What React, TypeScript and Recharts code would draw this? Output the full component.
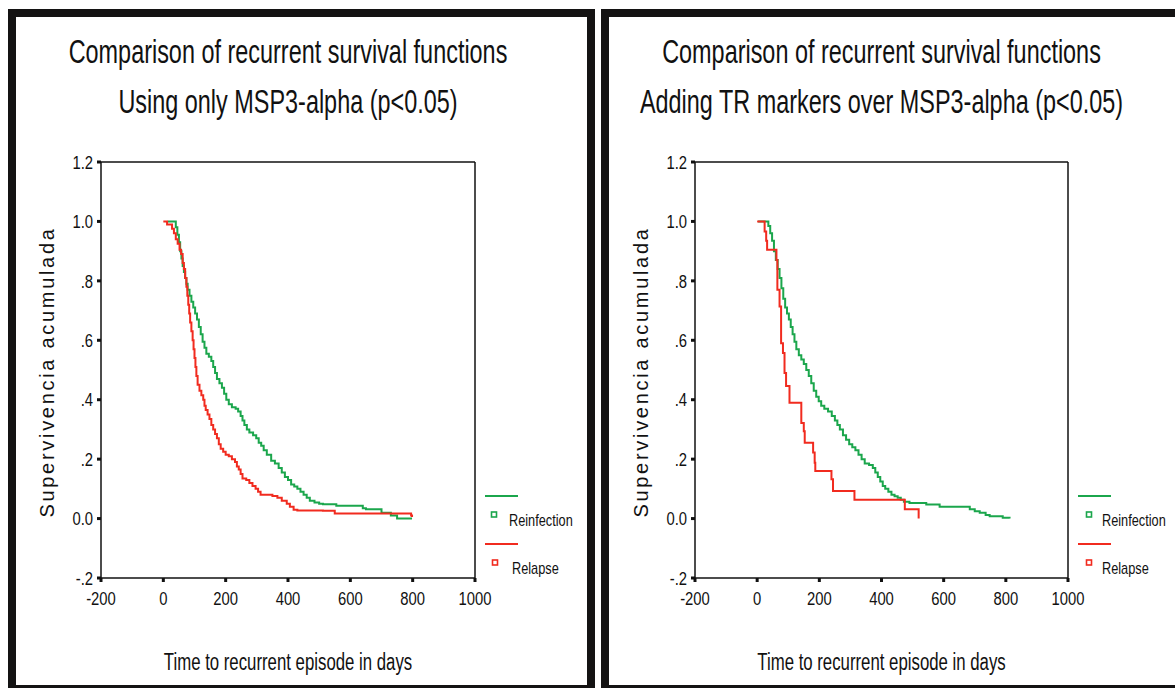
import React from 'react';
import { LineChart, Line, XAxis, YAxis, ReferenceLine, Legend } from 'recharts';

const X_TICKS = [-200, 0, 200, 400, 600, 800, 1000];
const Y_TICKS = [-0.2, 0, 0.2, 0.4, 0.6, 0.8, 1.0, 1.2];
const Y_TICK_LABELS = ['-.2', '0.0', '.2', '.4', '.6', '.8', '1.0', '1.2'];

const TITLE_MAIN = 'Comparison of recurrent survival functions';
const SUBTITLES = ['Using only MSP3-alpha (p<0.05)', 'Adding TR markers over MSP3-alpha (p<0.05)'];
const X_LABEL = 'Time to recurrent episode in days';
const Y_LABEL = 'Supervivencia acumulada';
const SERIES_NAMES = ['Reinfection', 'Relapse'];

// panel 1: MSP3-alpha only
const ONLY_REINF_DAYS = [14, 35, 40, 45, 50, 54, 58, 62, 66, 70, 74, 78, 84, 90, 96, 102, 108, 114, 120, 126, 132, 138, 146, 154, 160, 166, 172, 180, 188, 195, 202, 210, 220, 232, 240, 248, 254, 260, 268, 276, 288, 298, 306, 314, 322, 332, 346, 358, 370, 380, 390, 400, 410, 420, 430, 440, 450, 460, 470, 485, 500, 512, 555, 640, 650, 700, 730, 750, 798];
const ONLY_REINF_SURV = [1.0, 1.0, 0.98, 0.955, 0.93, 0.9, 0.875, 0.85, 0.83, 0.81, 0.79, 0.77, 0.75, 0.73, 0.71, 0.69, 0.67, 0.645, 0.62, 0.595, 0.575, 0.555, 0.545, 0.53, 0.51, 0.49, 0.47, 0.455, 0.44, 0.42, 0.4, 0.385, 0.375, 0.37, 0.36, 0.345, 0.33, 0.315, 0.3, 0.29, 0.28, 0.27, 0.255, 0.245, 0.23, 0.215, 0.195, 0.185, 0.17, 0.155, 0.14, 0.13, 0.115, 0.108, 0.1, 0.09, 0.08, 0.07, 0.06, 0.054, 0.05, 0.048, 0.043, 0.035, 0.031, 0.02, 0.01, 0.0, 0.0];
const ONLY_RELAPSE_DAYS = [0, 8, 12, 24, 28, 34, 40, 46, 52, 57, 62, 66, 70, 74, 77, 80, 83, 86, 90, 94, 97, 100, 103, 106, 110, 116, 122, 128, 132, 136, 142, 148, 154, 160, 166, 172, 178, 184, 192, 200, 210, 220, 230, 236, 242, 248, 254, 266, 276, 286, 296, 304, 312, 350, 366, 380, 396, 406, 418, 430, 512, 550, 780, 795, 798];
const ONLY_RELAPSE_SURV = [1.0, 1.0, 0.99, 0.99, 0.975, 0.96, 0.94, 0.925, 0.905, 0.89, 0.86, 0.84, 0.81, 0.78, 0.75, 0.72, 0.69, 0.66, 0.63, 0.6, 0.57, 0.54, 0.51, 0.48, 0.45, 0.43, 0.415, 0.4, 0.38, 0.365, 0.35, 0.335, 0.315, 0.3, 0.285, 0.27, 0.25, 0.235, 0.225, 0.215, 0.21, 0.2, 0.19, 0.175, 0.165, 0.15, 0.135, 0.13, 0.12, 0.11, 0.1, 0.09, 0.08, 0.076, 0.07, 0.06, 0.05, 0.04, 0.03, 0.027, 0.026, 0.017, 0.017, 0.01, 0.005];

// panel 2: TR markers added
const TR_REINF_DAYS = [3, 30, 36, 42, 48, 54, 60, 66, 72, 78, 84, 90, 96, 102, 108, 114, 120, 126, 134, 142, 150, 158, 166, 174, 182, 190, 198, 206, 216, 228, 240, 250, 258, 266, 276, 286, 296, 306, 316, 326, 336, 346, 360, 372, 380, 388, 396, 404, 412, 422, 432, 442, 452, 462, 472, 490, 544, 587, 684, 700, 716, 735, 748, 790, 812];
const TR_REINF_SURV = [1.0, 1.0, 0.985, 0.96, 0.935, 0.9, 0.87, 0.84, 0.81, 0.775, 0.74, 0.71, 0.69, 0.67, 0.645, 0.62, 0.595, 0.57, 0.55, 0.535, 0.52, 0.5, 0.48, 0.455, 0.43, 0.41, 0.395, 0.38, 0.37, 0.36, 0.345, 0.33, 0.315, 0.3, 0.28, 0.265, 0.25, 0.24, 0.23, 0.215, 0.2, 0.185, 0.18, 0.17, 0.155, 0.14, 0.125, 0.11, 0.1, 0.09, 0.08, 0.075, 0.07, 0.063, 0.057, 0.052, 0.047, 0.04, 0.031, 0.025, 0.02, 0.012, 0.008, 0.003, 0.0];
const TR_RELAPSE_DAYS = [0, 21, 24, 29, 32, 60, 62, 65, 72, 77, 83, 88, 93, 104, 139, 142, 150, 153, 175, 180, 185, 187, 234, 239, 244, 311, 313, 473, 475, 519, 519.5];
const TR_RELAPSE_SURV = [1.0, 1.0, 0.966, 0.935, 0.905, 0.905, 0.87, 0.77, 0.714, 0.59, 0.557, 0.49, 0.446, 0.39, 0.39, 0.322, 0.294, 0.255, 0.255, 0.222, 0.188, 0.16, 0.16, 0.132, 0.093, 0.093, 0.063, 0.063, 0.031, 0.031, 0.0];

const GREEN = '#1ba64c';
const RED = '#f12b1f';
const FONT = "'Liberation Sans', Arial, sans-serif";

const toPoints = (days: number[], surv: number[]) =>
  days.map((d, i) => ({ day: d, surv: surv[i] }));

const yTickLabel = (v: number) => {
  const i = Y_TICKS.findIndex((t) => Math.abs(t - v) < 1e-6);
  return i >= 0 ? Y_TICK_LABELS[i] : String(v);
};

// the original uses a condensed face, so squeeze text horizontally
const Narrow = ({ x, y, anchor, dy, size, squeeze, children }: any) => (
  <g transform={`translate(${x},${y}) scale(${squeeze},1)`}>
    <text x={0} y={0} dy={dy} textAnchor={anchor} fontSize={size} fontFamily={FONT} fill="#111">
      {children}
    </text>
  </g>
);

const XTick = (props: any) => (
  <Narrow x={props.x} y={props.y} anchor="middle" dy="0.71em" size={19} squeeze={0.78}>
    {props.payload.value}
  </Narrow>
);

const YTick = (props: any) => (
  <Narrow x={props.x} y={props.y} anchor="end" dy="0.355em" size={19} squeeze={0.78}>
    {yTickLabel(props.payload.value)}
  </Narrow>
);

const makeLegend = (sqX: number[], txtX: number[]) => (props: any) => {
  const payload = props.payload || [];
  return (
    <svg width={120} height={100} style={{ overflow: 'visible' }}>
      {payload.map((p: any, i: number) => {
        const top = i * 48;
        return (
          <g key={p.value}>
            <line x1={0} x2={33} y1={top + 9} y2={top + 9} stroke={p.color} strokeWidth={2} />
            <rect x={sqX[i] - 2.5} y={top + 25} width={5} height={5} fill="#fff" stroke={p.color} strokeWidth={1.6} />
            <Narrow x={txtX[i]} y={top + 39} anchor="start" size={17} squeeze={0.75}>
              {p.value}
            </Narrow>
          </g>
        );
      })}
    </svg>
  );
};

interface PanelProps {
  left: number;
  width: number;
  yAxisWidth: number;
  marginRight: number;
  subtitle: string;
  reinf: { day: number; surv: number }[];
  relapse: { day: number; surv: number }[];
  legendLeft: number;
  legendSquares: number[];
  legendText: number[];
}

function Panel(p: PanelProps) {
  const plotWidth = p.width - p.yAxisWidth - p.marginRight;
  const cx = p.yAxisWidth + plotWidth / 2;
  return (
    <div style={{ position: 'absolute', left: p.left, top: 17, width: p.width, height: 668 }}>
      <LineChart
        width={p.width}
        height={668}
        margin={{ top: 145, right: p.marginRight, bottom: 77, left: 0 }}
      >
        <XAxis
          type="number"
          dataKey="day"
          domain={[-200, 1000]}
          ticks={X_TICKS}
          allowDataOverflow
          height={30}
          axisLine={{ stroke: '#111', strokeWidth: 1.5 }}
          tickLine={{ stroke: '#111', strokeWidth: 3 }}
          tickSize={4}
          tickMargin={9}
          tick={XTick}
        />
        <YAxis
          type="number"
          domain={[-0.2, 1.2]}
          ticks={Y_TICKS}
          allowDataOverflow
          width={p.yAxisWidth}
          axisLine={{ stroke: '#111', strokeWidth: 1.5 }}
          tickLine={{ stroke: '#111', strokeWidth: 3 }}
          tickSize={4}
          tickMargin={4}
          tick={YTick}
        />
        <ReferenceLine y={1.2} stroke="#111" strokeWidth={1.5} />
        <ReferenceLine x={1000} stroke="#111" strokeWidth={1.5} />
        <Line
          name={SERIES_NAMES[0]}
          data={p.reinf}
          dataKey="surv"
          type="stepAfter"
          stroke={GREEN}
          strokeWidth={2}
          dot={false}
          isAnimationActive={false}
        />
        <Line
          name={SERIES_NAMES[1]}
          data={p.relapse}
          dataKey="surv"
          type="stepAfter"
          stroke={RED}
          strokeWidth={2}
          dot={false}
          isAnimationActive={false}
        />
        <Legend
          layout="vertical"
          align="center"
          verticalAlign="middle"
          content={makeLegend(p.legendSquares, p.legendText)}
          wrapperStyle={{ left: p.legendLeft, top: 470, width: 120, height: 100 }}
        />
      </LineChart>
      <svg
        width={p.width}
        height={668}
        style={{ position: 'absolute', left: 0, top: 0, pointerEvents: 'none' }}
      >
        <Narrow x={cx} y={46} anchor="middle" size={33} squeeze={0.71}>{TITLE_MAIN}</Narrow>
        <Narrow x={cx} y={96} anchor="middle" size={33} squeeze={0.71}>{p.subtitle}</Narrow>
        <Narrow x={cx} y={653} anchor="middle" size={23} squeeze={0.73}>{X_LABEL}</Narrow>
        <text
          transform={`translate(${p.yAxisWidth - 47}, 355) rotate(-90)`}
          textAnchor="middle"
          fontSize={20}
          fontFamily={FONT}
          fill="#111"
          letterSpacing={2.7}
        >
          {Y_LABEL}
        </text>
      </svg>
    </div>
  );
}

export default function App() {
  return (
    <div style={{ position: 'relative', width: 1175, height: 688, background: '#fff', overflow: 'hidden' }}>
      <style>{'body{margin:0}'}</style>
      <div style={{ position: 'absolute', left: 8, top: 9, width: 587, height: 684, border: '8px solid #141313', boxSizing: 'border-box' }} />
      <div style={{ position: 'absolute', left: 601, top: 9, width: 600, height: 684, border: '8px solid #141313', boxSizing: 'border-box' }} />
      <Panel
        left={16}
        width={570}
        yAxisWidth={85}
        marginRight={111}
        subtitle={SUBTITLES[0]}
        reinf={toPoints(ONLY_REINF_DAYS, ONLY_REINF_SURV)}
        relapse={toPoints(ONLY_RELAPSE_DAYS, ONLY_RELAPSE_SURV)}
        legendLeft={469}
        legendSquares={[9, 10]}
        legendText={[24, 27]}
      />
      <Panel
        left={609}
        width={566}
        yAxisWidth={86}
        marginRight={107}
        subtitle={SUBTITLES[1]}
        reinf={toPoints(TR_REINF_DAYS, TR_REINF_SURV)}
        relapse={toPoints(TR_RELAPSE_DAYS, TR_RELAPSE_SURV)}
        legendLeft={469}
        legendSquares={[11, 11]}
        legendText={[24, 24]}
      />
    </div>
  );
}
